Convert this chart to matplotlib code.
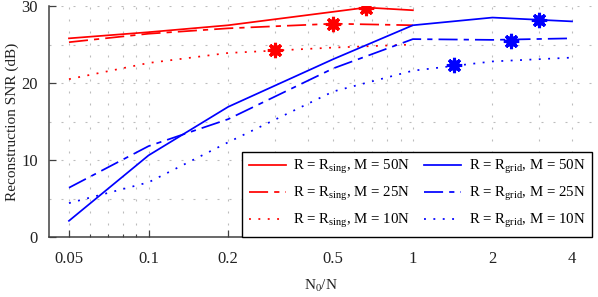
import matplotlib
matplotlib.use("Agg")
import matplotlib.pyplot as plt
from matplotlib.ticker import FixedLocator, NullFormatter

plt.rcParams['font.family'] = ['Liberation Serif', 'DejaVu Serif']
plt.rcParams['mathtext.fontset'] = 'custom'
plt.rcParams['mathtext.rm'] = 'Liberation Serif'
plt.rcParams['mathtext.it'] = 'Liberation Serif:italic'

# ---- data ----
x_vals = [0.05, 0.1, 0.2, 0.5, 1, 2, 4]
x_sing = [0.05, 0.1, 0.2, 0.5, 0.666, 1]
sing_50 = [25.8, 26.6, 27.5, 29.25, 29.8, 29.45]
x_sing_b = [0.05, 0.1, 0.2, 0.5, 1]
sing_25 = [25.3, 26.4, 27.1, 27.7, 27.5]
sing_10 = [20.5, 22.6, 23.9, 24.6, 25.0]
grid_50 = [2.1, 10.6, 16.9, 23.1, 27.5, 28.5, 28.0]
grid_25 = [6.4, 11.8, 15.3, 21.9, 25.7, 25.6, 25.8]
grid_10 = [4.4, 7.1, 12.3, 18.9, 21.6, 22.8, 23.3]

star_x_sing = [0.666, 0.5, 0.3]
star_y_sing = [29.8, 27.7, 24.3]
star_x_grid = [3.0, 2.35, 1.43]
star_y_grid = [28.2, 25.5, 22.3]

labels_sing = [r'R = R$_{\mathrm{sing}}$, M = 50N',
               r'R = R$_{\mathrm{sing}}$, M = 25N',
               r'R = R$_{\mathrm{sing}}$, M = 10N']
labels_grid = [r'R = R$_{\mathrm{grid}}$, M = 50N',
               r'R = R$_{\mathrm{grid}}$, M = 25N',
               r'R = R$_{\mathrm{grid}}$, M = 10N']

xticks = [0.05, 0.1, 0.2, 0.5, 1, 2, 4]
xtick_labels = ['0.05', '0.1', '0.2', '0.5', '1', '2', '4']
xminor = [0.06, 0.07, 0.08, 0.09, 0.3, 0.4, 0.6, 0.7, 0.8, 0.9, 3]
yticks = [0, 10, 20, 30]

# ---- figure ----
fig = plt.figure(figsize=(5.98, 2.97), dpi=100)
ax = fig.add_axes([49/598, 60/297, (592-49)/598, (237-6)/297])

lw = 1.25
solid = '-'
dashed = (0, (11, 3.5, 3, 3.5))
dotted = (0, (1.1, 4.3))

red = '#ff0000'
blue = '#0000ff'

hs = []
hs.append(ax.plot(x_sing, sing_50, color=red, lw=lw, linestyle=solid, label=labels_sing[0])[0])
hs.append(ax.plot(x_sing_b, sing_25, color=red, lw=lw, linestyle=dashed, label=labels_sing[1])[0])
hs.append(ax.plot(x_sing_b, sing_10, color=red, lw=lw, linestyle=dotted, label=labels_sing[2])[0])
hg = []
hg.append(ax.plot(x_vals, grid_50, color=blue, lw=lw, linestyle=solid, label=labels_grid[0])[0])
hg.append(ax.plot(x_vals, grid_25, color=blue, lw=lw, linestyle=dashed, label=labels_grid[1])[0])
hg.append(ax.plot(x_vals, grid_10, color=blue, lw=lw, linestyle=dotted, label=labels_grid[2])[0])

for xs, ys, c in [(star_x_sing, star_y_sing, red), (star_x_grid, star_y_grid, blue)]:
    ax.plot(xs, ys, linestyle='none', marker='o', ms=7, color=c, mec=c, zorder=5)
    ax.plot(xs, ys, linestyle='none', marker=(8, 2, 0), ms=11, mew=2.2, color=c, mec=c, zorder=5)

ax.set_xscale('log')
ax.set_xlim(0.05 / 1.19, 4 * 1.19)
ax.set_ylim(0, 30)

ax.xaxis.set_major_locator(FixedLocator(xticks))
ax.set_xticklabels(xtick_labels)
ax.xaxis.set_minor_locator(FixedLocator(xminor))
ax.xaxis.set_minor_formatter(NullFormatter())
ax.yaxis.set_major_locator(FixedLocator(yticks))
ax.yaxis.set_minor_locator(FixedLocator([5, 15, 25]))

ax.grid(True, which='both', color='#bcbcbc', linestyle=(0, (1.8, 9)), lw=0.8)
ax.set_axisbelow(True)

for s in ['top', 'right']:
    ax.spines[s].set_visible(False)
for s in ['left', 'bottom']:
    ax.spines[s].set_color('#404040')
    ax.spines[s].set_linewidth(1.1)

ax.tick_params(axis='both', which='major', direction='in', length=5, width=0.9,
               color='#404040', labelsize=12, labelcolor='#222222')
ax.tick_params(axis='x', which='major', pad=10)
ax.tick_params(axis='y', which='major', pad=8)
ax.tick_params(axis='x', which='minor', direction='in', length=2.5, width=0.8, color='#404040')
ax.tick_params(axis='y', which='minor', length=0)

ax.set_ylabel('Reconstruction SNR (dB)', fontsize=11, color='#222222', labelpad=0)
ax.yaxis.set_label_coords(-30/543, 0.5)
ax.set_xlabel(r'N$_0$/N', fontsize=11, color='#222222', labelpad=8)

leg = ax.legend(handles=hs + hg, ncol=2, loc='lower right', bbox_to_anchor=(1.0, 0.0),
                borderaxespad=0, fontsize=10.7, frameon=True, fancybox=False,
                edgecolor='black', framealpha=1, handlelength=2.5, handletextpad=0.5,
                columnspacing=0.9, labelspacing=0.6, borderpad=0.45)
leg.get_frame().set_linewidth(1.0)
leg.set_zorder(10)

fig.savefig('out.png', dpi=100)
